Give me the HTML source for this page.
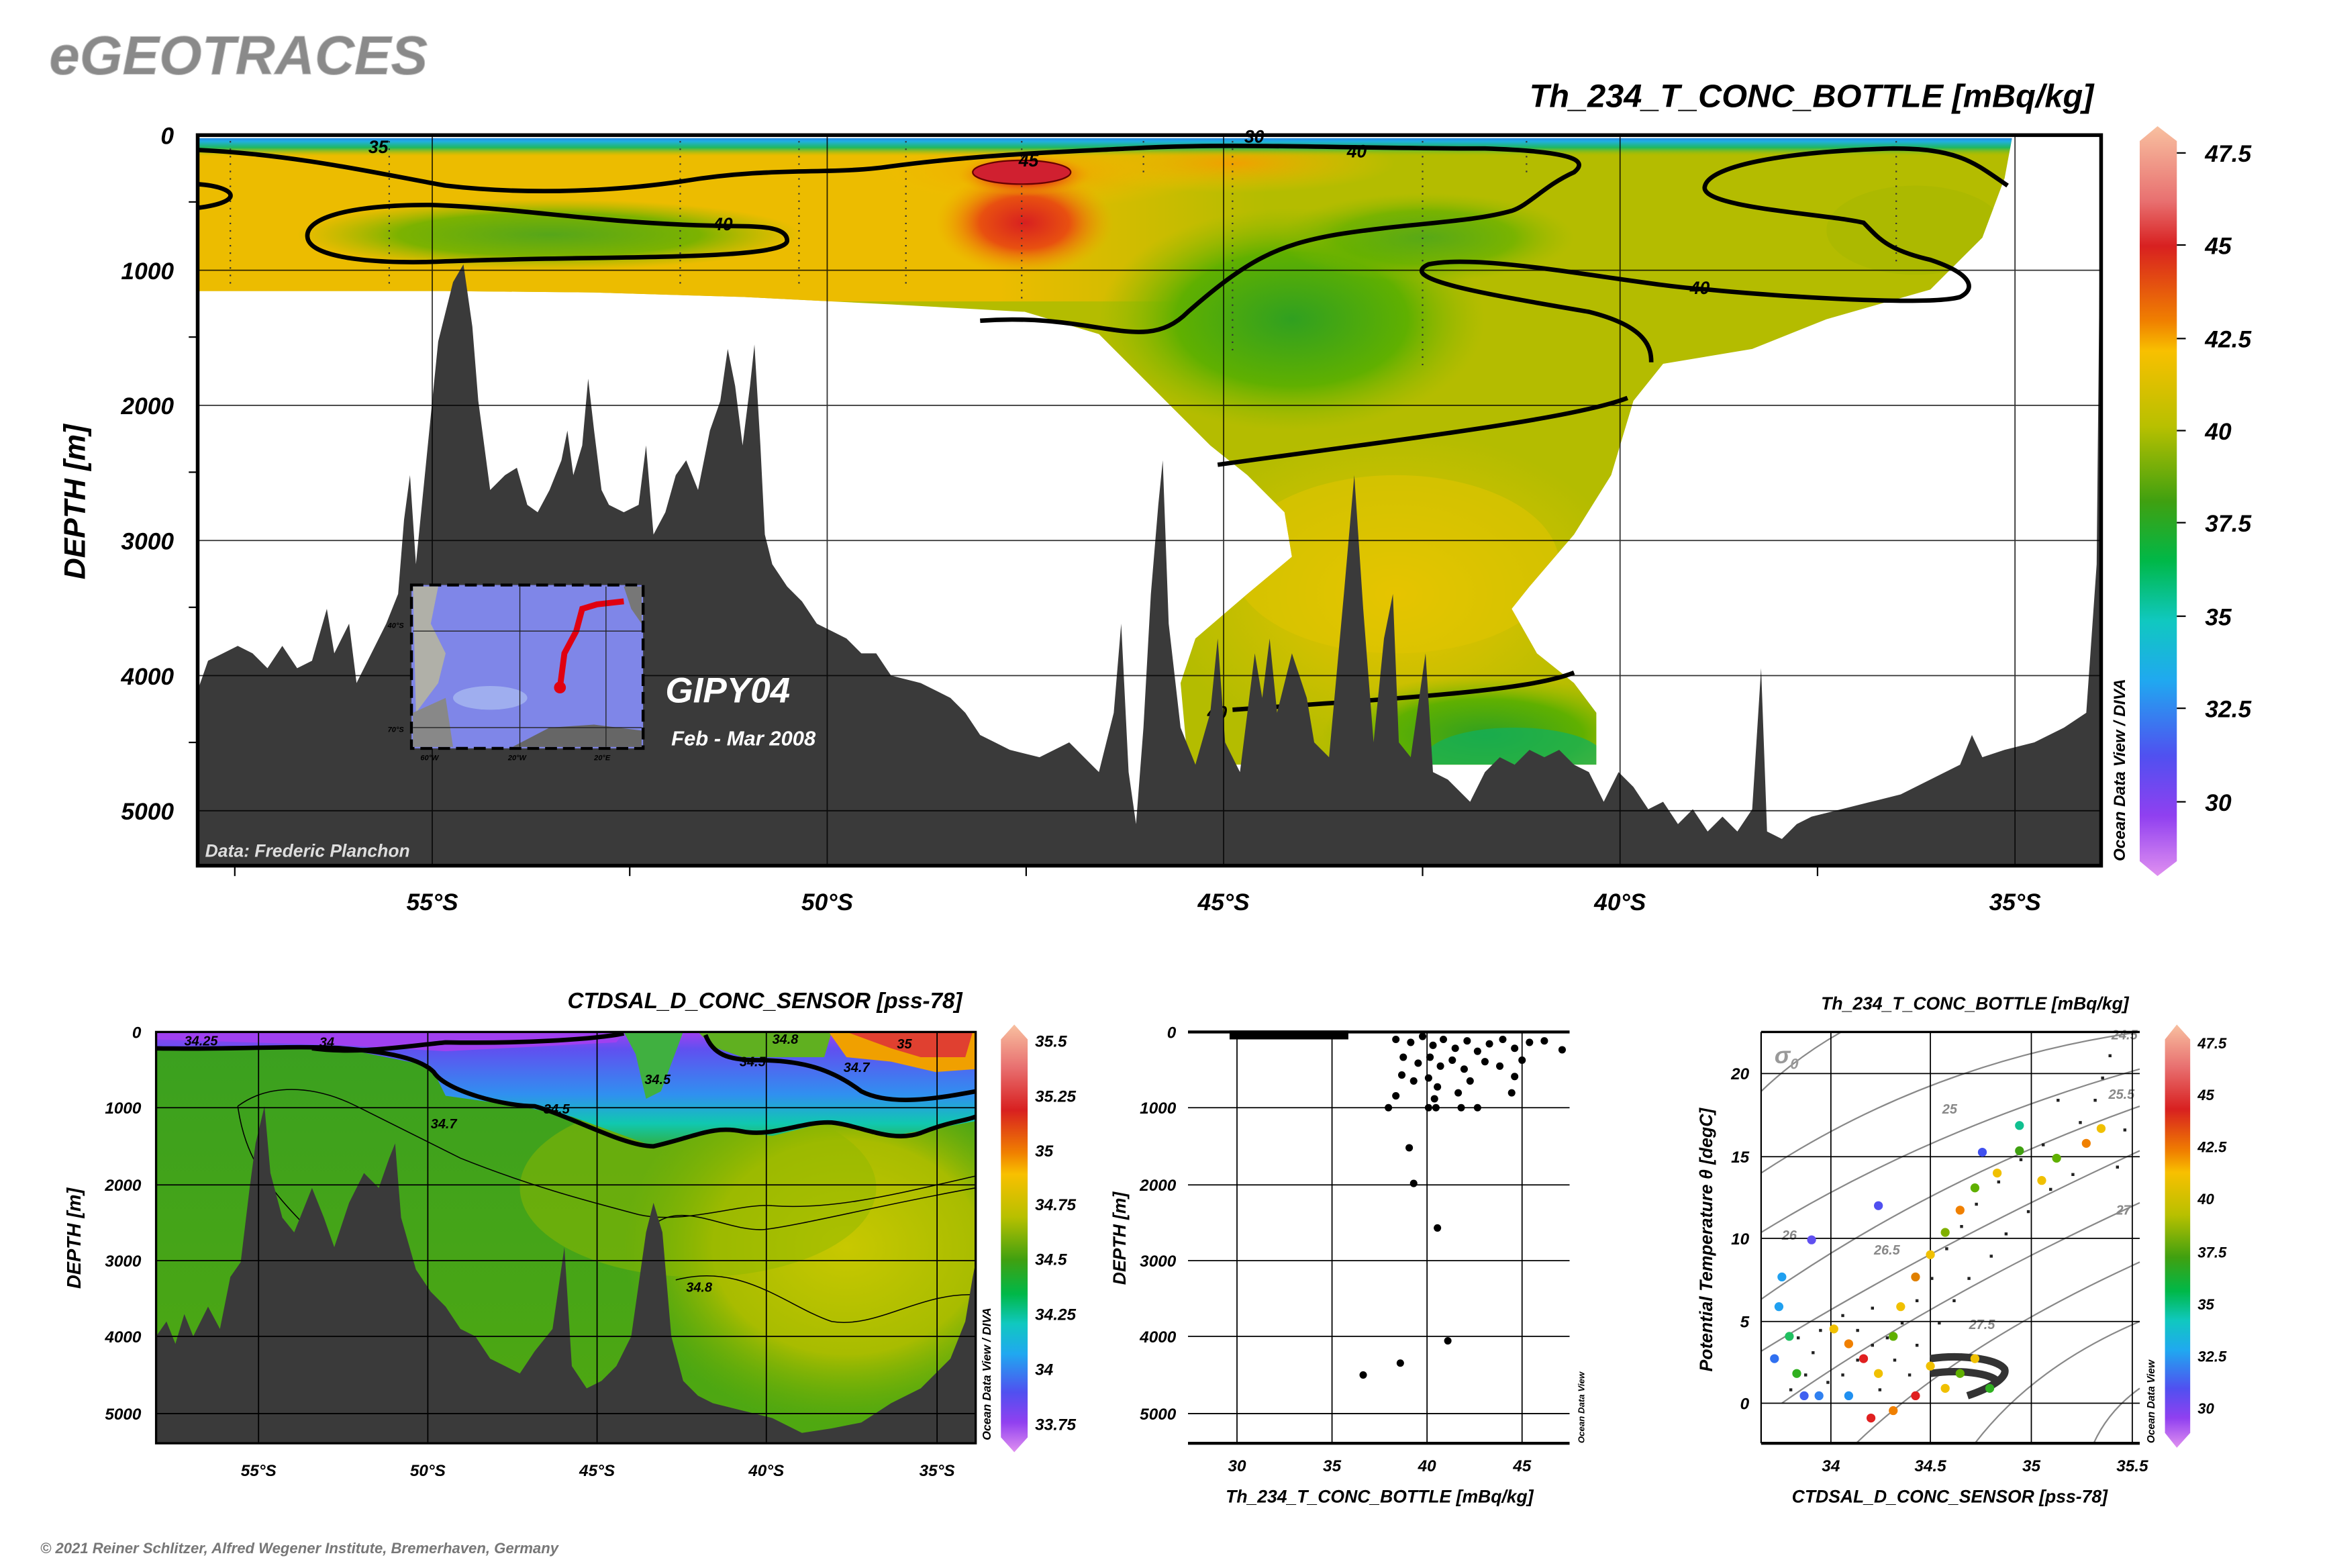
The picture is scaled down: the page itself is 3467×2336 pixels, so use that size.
<!DOCTYPE html>
<html><head><meta charset="utf-8"><style>
html,body{margin:0;padding:0;background:#fff}
svg{display:block}
text{font-family:"Liberation Sans",sans-serif;font-style:italic;font-weight:bold}
</style></head><body>
<svg width="3467" height="2336" viewBox="0 0 1567 1056" xmlns="http://www.w3.org/2000/svg">
<defs>
<linearGradient id="cb" x1="0" y1="0" x2="0" y2="1">
<stop offset="0" stop-color="#f8c0a0"/><stop offset="0.1" stop-color="#e87070"/><stop offset="0.16" stop-color="#d82020"/>
<stop offset="0.26" stop-color="#f08000"/><stop offset="0.3" stop-color="#f8c000"/><stop offset="0.4" stop-color="#b8c000"/>
<stop offset="0.5" stop-color="#40a010"/><stop offset="0.58" stop-color="#00b848"/><stop offset="0.66" stop-color="#10c8c0"/>
<stop offset="0.74" stop-color="#20a8f0"/><stop offset="0.84" stop-color="#5050f0"/><stop offset="0.92" stop-color="#9040f0"/><stop offset="1" stop-color="#e090f0"/>
</linearGradient>
<linearGradient id="top" x1="0" y1="0" x2="0" y2="1">
<stop offset="0" stop-color="#3060f0"/><stop offset="0.3" stop-color="#20b0e0"/><stop offset="0.6" stop-color="#20b860"/><stop offset="1" stop-color="#a0c000" stop-opacity="0"/>
</linearGradient>
<linearGradient id="leftY" x1="0" y1="0" x2="1" y2="0">
<stop offset="0" stop-color="#ecbc00"/><stop offset="0.75" stop-color="#ecbc00"/><stop offset="1" stop-color="#ecbc00" stop-opacity="0"/>
</linearGradient>
<radialGradient id="red"><stop offset="0" stop-color="#d82020"/><stop offset="0.5" stop-color="#e85010"/><stop offset="1" stop-color="#f0a000" stop-opacity="0"/></radialGradient>
<radialGradient id="org"><stop offset="0" stop-color="#f0a000"/><stop offset="1" stop-color="#f0c000" stop-opacity="0"/></radialGradient>
<radialGradient id="grn"><stop offset="0" stop-color="#30a020"/><stop offset="0.6" stop-color="#60b000"/><stop offset="1" stop-color="#90b800" stop-opacity="0"/></radialGradient>
<radialGradient id="yel"><stop offset="0" stop-color="#f0c400"/><stop offset="1" stop-color="#e0c400" stop-opacity="0"/></radialGradient>
<linearGradient id="sal" x1="0" y1="0" x2="0" y2="1">
<stop offset="0" stop-color="#3aa020"/><stop offset="1" stop-color="#50a810"/>
</linearGradient>
<radialGradient id="salY"><stop offset="0" stop-color="#c8c800"/><stop offset="0.6" stop-color="#a8bc00"/><stop offset="1" stop-color="#70b000" stop-opacity="0"/></radialGradient>
<linearGradient id="salTop" x1="0" y1="0" x2="0" y2="1">
<stop offset="0" stop-color="#a040f0"/><stop offset="0.15" stop-color="#6050f0"/><stop offset="0.55" stop-color="#3090f0"/><stop offset="0.8" stop-color="#10c8b0"/><stop offset="1" stop-color="#30b040"/>
</linearGradient>
<linearGradient id="cb2" x1="0" y1="0" x2="0" y2="1">
<stop offset="0" stop-color="#f8c0a0"/><stop offset="0.1" stop-color="#e87070"/><stop offset="0.2" stop-color="#d82020"/>
<stop offset="0.3" stop-color="#f08000"/><stop offset="0.35" stop-color="#f8c000"/><stop offset="0.45" stop-color="#b8c000"/>
<stop offset="0.55" stop-color="#40a010"/><stop offset="0.63" stop-color="#00b848"/><stop offset="0.7" stop-color="#10c8c0"/>
<stop offset="0.77" stop-color="#20a8f0"/><stop offset="0.86" stop-color="#5050f0"/><stop offset="0.93" stop-color="#9040f0"/><stop offset="1" stop-color="#e090f0"/>
</linearGradient>
<clipPath id="mainclip"><path d="M133,93 L1355,93 L1350,120 L1335,160 L1300,195 L1230,215 L1180,235 L1120,245 L1100,270 L1085,320 L1060,360 L1030,395 L1018,410 L1035,440 L1060,460 L1075,480 L1075,515 L800,515 L795,460 L805,430 L840,400 L870,375 L865,345 L840,320 L815,300 L790,275 L765,250 L740,225 L690,210 L600,205 L500,200 L400,197 L300,196 L133,196 Z"/></clipPath>
<clipPath id="salclip"><rect x="105" y="695" width="552" height="277"/></clipPath>
</defs>

<text x="33" y="50" font-size="37" fill="#8a8a8a" stroke="#bbb" stroke-width="0.5">eGEOTRACES</text>
<text x="1410" y="72" font-size="22" text-anchor="end" fill="#000">Th_234_T_CONC_BOTTLE [mBq/kg]</text>

<g clip-path="url(#mainclip)">
<rect x="133" y="91" width="1282" height="430" fill="#b4bc00"/>
<rect x="133" y="98" width="720" height="105" fill="url(#leftY)"/>
<ellipse cx="700" cy="115" rx="120" ry="25" fill="url(#org)"/>
<ellipse cx="830" cy="110" rx="110" ry="20" fill="url(#org)"/>
<ellipse cx="690" cy="150" rx="60" ry="35" fill="url(#red)"/>
<ellipse cx="690" cy="118" rx="45" ry="14" fill="url(#red)"/>
<ellipse cx="370" cy="158" rx="170" ry="24" fill="url(#grn)" opacity="0.8"/>
<ellipse cx="870" cy="215" rx="130" ry="75" fill="url(#grn)"/>
<ellipse cx="960" cy="160" rx="100" ry="30" fill="url(#grn)" opacity="0.7"/>
<ellipse cx="1290" cy="155" rx="60" ry="30" fill="#a8b800" opacity="0.7"/>
<ellipse cx="940" cy="400" rx="160" ry="110" fill="url(#yel)"/>
<ellipse cx="940" cy="380" rx="110" ry="60" fill="#e0c400" opacity="0.6"/>
<ellipse cx="1000" cy="495" rx="110" ry="40" fill="url(#grn)"/>
<ellipse cx="1020" cy="510" rx="60" ry="20" fill="#10b060" opacity="0.7"/>
<rect x="133" y="91" width="1222" height="14" fill="url(#top)"/>
</g>
<g stroke="#333" stroke-width="1" stroke-dasharray="1,4">
<line x1="155" y1="95" x2="155" y2="195"/><line x1="262" y1="95" x2="262" y2="195"/><line x1="458" y1="95" x2="458" y2="195"/>
<line x1="538" y1="95" x2="538" y2="195"/><line x1="610" y1="95" x2="610" y2="195"/><line x1="688" y1="95" x2="688" y2="205"/>
<line x1="770" y1="95" x2="770" y2="120"/><line x1="830" y1="95" x2="830" y2="240"/><line x1="958" y1="95" x2="958" y2="250"/>
<line x1="1028" y1="95" x2="1028" y2="120"/><line x1="1277" y1="95" x2="1277" y2="180"/>
</g>
<g fill="none" stroke="#000" stroke-width="3">
<path d="M133,101 C200,104 260,118 300,125 C360,132 420,128 460,122 C520,112 560,118 600,112 C660,104 720,102 760,100 C830,96 900,100 1000,100 C1060,102 1070,108 1060,116 C1040,125 1030,138 1018,142 C990,150 950,150 900,158 C860,165 840,175 800,210 C770,240 740,210 660,216"/>
<path d="M1352,125 C1330,110 1320,100 1275,100 C1200,102 1150,112 1148,126 C1146,140 1230,144 1255,150 C1265,160 1270,168 1300,175 C1330,185 1330,195 1320,200 C1300,206 1200,200 1150,195 C1100,192 1000,170 962,178 C940,188 1000,198 1070,210 C1110,220 1112,235 1112,244"/>
<path d="M820,313 C950,295 1060,282 1096,268"/>
<path d="M830,478 C950,470 1030,465 1060,453"/>
<path d="M480,152 C400,150 350,140 290,138 C230,138 205,148 207,160 C209,175 260,178 300,176 C400,172 530,176 530,162 C530,150 500,153 480,152 Z"/>
<path d="M133,124 C160,126 165,136 133,140"/>
</g>
<ellipse cx="688" cy="116" rx="33" ry="8" fill="#d02030" stroke="#600" stroke-width="1"/>
<g font-size="12" fill="#000"><text x="248" y="103">35</text><text x="838" y="96">30</text><text x="907" y="106">40</text><text x="480" y="155">40</text><text x="1138" y="198">40</text><text x="686" y="112">45</text><text x="813" y="484">40</text></g>

<path fill="#3a3a3a" d="M133,583 L133,465 L140,445 L150,440 L160,435 L170,440 L180,450 L190,435 L200,450 L210,445 L220,410 L225,440 L235,420 L240,460 L250,440 L260,420 L268,400 L272,350 L276,320 L280,380 L288,300 L295,230 L305,190 L312,178 L318,220 L322,270 L330,330 L340,320 L348,315 L355,340 L362,345 L370,330 L378,310 L382,290 L386,320 L392,300 L396,255 L400,290 L405,330 L410,340 L420,345 L430,340 L435,300 L440,360 L448,345 L455,320 L462,310 L470,330 L478,290 L485,270 L490,235 L495,260 L500,300 L505,260 L508,232 L512,300 L515,360 L520,380 L530,395 L540,405 L550,420 L560,425 L570,430 L580,440 L590,440 L600,455 L620,460 L640,470 L650,480 L660,495 L670,500 L680,505 L700,510 L720,500 L740,520 L750,480 L755,420 L760,520 L765,555 L770,490 L775,400 L780,340 L783,310 L787,420 L795,490 L805,515 L815,480 L820,430 L825,500 L835,520 L845,440 L850,470 L855,430 L860,480 L870,440 L880,470 L885,500 L895,510 L905,400 L912,320 L918,410 L925,500 L932,430 L938,400 L942,500 L950,510 L960,440 L965,520 L975,525 L990,540 L1000,520 L1010,510 L1020,515 L1030,505 L1040,510 L1050,505 L1060,515 L1070,520 L1080,540 L1090,520 L1100,530 L1110,545 L1120,540 L1130,555 L1140,545 L1150,560 L1160,550 L1170,560 L1180,545 L1186,450 L1190,560 L1200,565 L1210,555 L1220,550 L1240,545 L1260,540 L1280,535 L1300,525 L1320,515 L1328,495 L1335,510 L1350,505 L1370,500 L1390,490 L1405,480 L1412,380 L1414,180 L1415,95 L1415,583 Z"/>
<g stroke="#000" stroke-width="0.8" opacity="0.8">
<line x1="133" y1="182" x2="1415" y2="182"/><line x1="133" y1="273" x2="1415" y2="273"/><line x1="133" y1="364" x2="1415" y2="364"/><line x1="133" y1="455" x2="1415" y2="455"/><line x1="133" y1="546" x2="1415" y2="546"/>
<line x1="291" y1="91" x2="291" y2="583"/><line x1="557" y1="91" x2="557" y2="583"/><line x1="824" y1="91" x2="824" y2="583"/><line x1="1091" y1="91" x2="1091" y2="583"/><line x1="1357" y1="91" x2="1357" y2="583"/>
</g>
<rect x="133" y="91" width="1282" height="492" fill="none" stroke="#000" stroke-width="2.5"/>
<g stroke="#000" stroke-width="1">
<line x1="158" y1="583" x2="158" y2="590"/><line x1="424" y1="583" x2="424" y2="590"/><line x1="691" y1="583" x2="691" y2="590"/><line x1="958" y1="583" x2="958" y2="590"/><line x1="1224" y1="583" x2="1224" y2="590"/>
<line x1="127" y1="136" x2="133" y2="136"/><line x1="127" y1="227" x2="133" y2="227"/><line x1="127" y1="318" x2="133" y2="318"/><line x1="127" y1="409" x2="133" y2="409"/><line x1="127" y1="500" x2="133" y2="500"/>
</g>
<g font-size="16" fill="#000" text-anchor="end"><text x="117" y="97">0</text><text x="117" y="188">1000</text><text x="117" y="279">2000</text><text x="117" y="370">3000</text><text x="117" y="461">4000</text><text x="117" y="552">5000</text></g>
<g font-size="16" fill="#000" text-anchor="middle"><text x="291" y="613">55°S</text><text x="557" y="613">50°S</text><text x="824" y="613">45°S</text><text x="1091" y="613">40°S</text><text x="1357" y="613">35°S</text></g>
<text transform="translate(57,338) rotate(-90)" font-size="20" text-anchor="middle" fill="#000">DEPTH [m]</text>
<text x="138" y="577" font-size="12" fill="#ddd">Data: Frederic Planchon</text>
<text transform="translate(1431,580) rotate(-90)" font-size="11" fill="#000">Ocean Data View / DIVA</text>
<rect x="277" y="394" width="156" height="110" fill="#7f86e8" stroke="#000" stroke-width="2" stroke-dasharray="8,4"/>
<path d="M278,395 L295,395 L290,420 L300,440 L295,460 L280,480 Z" fill="#b0b0a8"/>
<path d="M278,480 L300,470 L305,503 L278,503 Z" fill="#888"/>
<path d="M345,503 L370,490 L400,488 L432,492 L432,503 Z" fill="#666"/>
<path d="M420,395 L432,395 L432,420 L425,410 Z" fill="#777"/>
<ellipse cx="330" cy="470" rx="25" ry="8" fill="#a8b8f0" opacity="0.8"/>
<path d="M377,463 L380,440 L388,425 L392,410 L402,407 L420,405" fill="none" stroke="#e00010" stroke-width="4"/>
<circle cx="377" cy="463" r="4" fill="#e00010"/>
<g stroke="#222" stroke-width="0.6"><line x1="350" y1="395" x2="350" y2="503"/><line x1="408" y1="395" x2="408" y2="503"/><line x1="278" y1="425" x2="432" y2="425"/><line x1="278" y1="490" x2="432" y2="490"/></g>
<g font-size="5" fill="#000"><text x="283" y="512">60°W</text><text x="342" y="512">20°W</text><text x="400" y="512">20°E</text><text x="261" y="423">40°S</text><text x="261" y="493">70°S</text></g>
<text x="448" y="473" font-size="24" fill="#fff">GIPY04</text>
<text x="452" y="502" font-size="14" fill="#fff">Feb - Mar 2008</text>
<path d="M1441,95 L1453,85 L1466,95 L1466,580 L1453,590 L1441,580 Z" fill="url(#cb)"/>
<g stroke="#000" stroke-width="1"><line x1="1466" y1="103" x2="1472" y2="103"/><line x1="1466" y1="165" x2="1472" y2="165"/><line x1="1466" y1="228" x2="1472" y2="228"/><line x1="1466" y1="290" x2="1472" y2="290"/><line x1="1466" y1="352" x2="1472" y2="352"/><line x1="1466" y1="415" x2="1472" y2="415"/><line x1="1466" y1="477" x2="1472" y2="477"/><line x1="1466" y1="540" x2="1472" y2="540"/></g>
<g font-size="16" fill="#000"><text x="1485" y="109">47.5</text><text x="1485" y="171">45</text><text x="1485" y="234">42.5</text><text x="1485" y="296">40</text><text x="1485" y="358">37.5</text><text x="1485" y="421">35</text><text x="1485" y="483">32.5</text><text x="1485" y="546">30</text></g>

<text x="515" y="679" font-size="15" text-anchor="middle" fill="#000">CTDSAL_D_CONC_SENSOR [pss-78]</text>
<g clip-path="url(#salclip)">
<rect x="105" y="695" width="552" height="277" fill="url(#sal)"/>
<ellipse cx="570" cy="840" rx="150" ry="120" fill="url(#salY)"/>
<ellipse cx="470" cy="800" rx="120" ry="60" fill="#90b800" opacity="0.5"/>
<path d="M105,695 L657,695 L657,755 L630,760 L600,765 L560,755 L520,765 L480,760 L440,772 L385,752 L350,745 L300,738 L290,718 L230,706 L105,706 Z" fill="url(#salTop)"/>
<path d="M105,695 L420,695 L415,702 L300,708 L230,704 L105,700 Z" fill="#a040f0"/>
<path d="M420,695 L460,695 L445,735 L435,740 L428,710 Z" fill="#40b040"/>
<path d="M470,695 L560,695 L555,712 L500,712 L480,705 Z" fill="#60b020"/>
<path d="M558,695 L657,695 L657,720 L630,722 L600,715 L570,712 Z" fill="#f0a000"/>
<path d="M570,695 L655,695 L650,712 L620,712 L600,706 Z" fill="#e04030"/>
<g fill="none" stroke="#000" stroke-width="3">
<path d="M105,706 C150,707 200,704 230,706 C270,709 285,715 292,722 C300,735 340,745 360,745 C385,752 420,772 440,772 C470,765 480,758 500,762 C520,766 540,755 560,756 C580,758 600,770 620,763 C640,755 650,755 657,752"/>
<path d="M210,706 C240,710 270,705 300,702 C350,703 400,700 420,696"/>
<path d="M475,697 C480,710 490,714 510,714 C540,714 560,720 580,735 C600,745 630,740 657,735"/>
</g>
<g fill="none" stroke="#000" stroke-width="0.7">
<path d="M160,745 C180,730 210,730 240,745 C270,760 290,770 310,780 C360,800 400,810 430,818 C460,825 500,810 520,812 C560,815 600,805 657,792"/>
<path d="M160,745 C165,780 180,800 210,830 C250,870 290,890 330,920"/>
<path d="M440,825 C438,840 440,880 445,900"/>
<path d="M440,825 C460,808 490,830 515,828 C540,825 600,810 657,800"/>
<path d="M455,862 C500,850 530,880 560,890 C590,895 620,870 657,872"/>
</g>
<path fill="#3a3a3a" d="M105,972 L105,900 L112,890 L118,905 L124,885 L130,900 L140,880 L148,895 L155,860 L162,850 L168,800 L172,770 L178,745 L182,790 L190,820 L198,830 L210,800 L218,820 L225,840 L235,810 L245,790 L255,800 L262,780 L266,770 L270,820 L280,855 L290,870 L300,880 L310,895 L320,900 L330,915 L340,920 L350,925 L360,910 L372,895 L380,840 L385,920 L395,935 L405,930 L415,920 L425,900 L435,830 L440,810 L446,830 L452,900 L460,930 L470,940 L480,945 L500,950 L520,955 L540,965 L560,962 L580,958 L600,945 L620,935 L640,915 L650,890 L655,860 L657,850 L657,972 Z"/>
</g>
<g font-size="9" fill="#000"><text x="124" y="704">34.25</text><text x="215" y="705">34</text><text x="366" y="750">34.5</text><text x="290" y="760">34.7</text><text x="462" y="870">34.8</text><text x="498" y="718">34.5</text><text x="520" y="703">34.8</text><text x="604" y="706">35</text><text x="568" y="722">34.7</text><text x="434" y="730">34.5</text></g>
<g stroke="#000" stroke-width="0.8"><line x1="105" y1="746" x2="657" y2="746"/><line x1="105" y1="798" x2="657" y2="798"/><line x1="105" y1="849" x2="657" y2="849"/><line x1="105" y1="900" x2="657" y2="900"/><line x1="105" y1="952" x2="657" y2="952"/>
<line x1="174" y1="695" x2="174" y2="972"/><line x1="288" y1="695" x2="288" y2="972"/><line x1="402" y1="695" x2="402" y2="972"/><line x1="516" y1="695" x2="516" y2="972"/><line x1="631" y1="695" x2="631" y2="972"/></g>
<rect x="105" y="695" width="552" height="277" fill="none" stroke="#000" stroke-width="1.5"/>
<g font-size="11" fill="#000" text-anchor="end"><text x="95" y="699">0</text><text x="95" y="750">1000</text><text x="95" y="802">2000</text><text x="95" y="853">3000</text><text x="95" y="904">4000</text><text x="95" y="956">5000</text></g>
<g font-size="11" fill="#000" text-anchor="middle"><text x="174" y="994">55°S</text><text x="288" y="994">50°S</text><text x="402" y="994">45°S</text><text x="516" y="994">40°S</text><text x="631" y="994">35°S</text></g>
<text transform="translate(54,834) rotate(-90)" font-size="13" text-anchor="middle" fill="#000">DEPTH [m]</text>
<text transform="translate(667,970) rotate(-90)" font-size="8" fill="#000">Ocean Data View / DIVA</text>
<path d="M674,700 L683,690 L692,700 L692,968 L683,978 L674,968 Z" fill="url(#cb2)"/>
<g font-size="11" fill="#000"><text x="697" y="705">35.5</text><text x="697" y="742">35.25</text><text x="697" y="779">35</text><text x="697" y="815">34.75</text><text x="697" y="852">34.5</text><text x="697" y="889">34.25</text><text x="697" y="926">34</text><text x="697" y="963">33.75</text></g>

<g stroke="#000" stroke-width="0.8"><line x1="800" y1="746" x2="1057" y2="746"/><line x1="800" y1="798" x2="1057" y2="798"/><line x1="800" y1="849" x2="1057" y2="849"/><line x1="800" y1="900" x2="1057" y2="900"/><line x1="800" y1="952" x2="1057" y2="952"/>
<line x1="833" y1="695" x2="833" y2="972"/><line x1="897" y1="695" x2="897" y2="972"/><line x1="961" y1="695" x2="961" y2="972"/><line x1="1025" y1="695" x2="1025" y2="972"/></g>
<line x1="800" y1="695" x2="1057" y2="695" stroke="#000" stroke-width="2"/>
<line x1="800" y1="972" x2="1057" y2="972" stroke="#000" stroke-width="2"/>
<g fill="#000">
<rect x="828" y="694" width="80" height="6"/>
<circle cx="940" cy="700" r="2.5"/><circle cx="950" cy="702" r="2.5"/><circle cx="958" cy="698" r="2.5"/><circle cx="965" cy="704" r="2.5"/><circle cx="972" cy="700" r="2.5"/><circle cx="980" cy="706" r="2.5"/><circle cx="988" cy="701" r="2.5"/><circle cx="995" cy="708" r="2.5"/><circle cx="1003" cy="703" r="2.5"/><circle cx="1012" cy="700" r="2.5"/><circle cx="1020" cy="706" r="2.5"/><circle cx="1030" cy="702" r="2.5"/><circle cx="1040" cy="701" r="2.5"/><circle cx="1052" cy="707" r="2.5"/>
<circle cx="945" cy="712" r="2.5"/><circle cx="955" cy="716" r="2.5"/><circle cx="963" cy="712" r="2.5"/><circle cx="970" cy="718" r="2.5"/><circle cx="978" cy="714" r="2.5"/><circle cx="986" cy="720" r="2.5"/><circle cx="1000" cy="715" r="2.5"/><circle cx="1010" cy="718" r="2.5"/><circle cx="1025" cy="714" r="2.5"/>
<circle cx="944" cy="724" r="2.5"/><circle cx="952" cy="728" r="2.5"/><circle cx="962" cy="726" r="2.5"/><circle cx="968" cy="732" r="2.5"/><circle cx="990" cy="728" r="2.5"/><circle cx="1020" cy="725" r="2.5"/><circle cx="940" cy="738" r="2.5"/><circle cx="966" cy="740" r="2.5"/><circle cx="982" cy="736" r="2.5"/><circle cx="1018" cy="736" r="2.5"/>
<circle cx="935" cy="746" r="2.5"/><circle cx="962" cy="746" r="2.5"/><circle cx="967" cy="746" r="2.5"/><circle cx="984" cy="746" r="2.5"/><circle cx="995" cy="746" r="2.5"/>
<circle cx="949" cy="773" r="2.5"/><circle cx="952" cy="797" r="2.5"/><circle cx="968" cy="827" r="2.5"/><circle cx="975" cy="903" r="2.5"/><circle cx="943" cy="918" r="2.5"/><circle cx="918" cy="926" r="2.5"/>
</g>
<g font-size="11" fill="#000" text-anchor="end"><text x="792" y="699">0</text><text x="792" y="750">1000</text><text x="792" y="802">2000</text><text x="792" y="853">3000</text><text x="792" y="904">4000</text><text x="792" y="956">5000</text></g>
<g font-size="11" fill="#000" text-anchor="middle"><text x="833" y="991">30</text><text x="897" y="991">35</text><text x="961" y="991">40</text><text x="1025" y="991">45</text></g>
<text x="929" y="1012" font-size="12" text-anchor="middle" fill="#000">Th_234_T_CONC_BOTTLE [mBq/kg]</text>
<text transform="translate(758,834) rotate(-90)" font-size="12" text-anchor="middle" fill="#000">DEPTH [m]</text>
<text transform="translate(1067,972) rotate(-90)" font-size="6" fill="#000">Ocean Data View</text>

<text x="1330" y="680" font-size="12" text-anchor="middle" fill="#000">Th_234_T_CONC_BOTTLE [mBq/kg]</text>
<g fill="none" stroke="#888" stroke-width="1">
<path d="M1186,735 Q1210,712 1240,695"/><path d="M1186,790 Q1300,715 1441,695"/><path d="M1186,830 Q1300,760 1441,720"/>
<path d="M1186,875 Q1300,795 1441,745"/><path d="M1186,910 Q1300,840 1441,775"/><path d="M1200,945 Q1300,875 1441,810"/>
<path d="M1250,972 Q1320,905 1441,850"/><path d="M1330,972 Q1370,920 1441,890"/><path d="M1410,972 Q1420,950 1441,935"/>
</g>
<g font-size="9" fill="#888"><text x="1308" y="750">25</text><text x="1200" y="835">26</text><text x="1262" y="845">26.5</text><text x="1326" y="895">27.5</text><text x="1425" y="818">27</text><text x="1420" y="740">25.5</text><text x="1422" y="700">24.5</text></g>
<text x="1195" y="716" font-size="16" fill="#999">σ<tspan font-size="10" dy="4">0</tspan></text>
<g stroke="#000" stroke-width="0.8"><line x1="1186" y1="723" x2="1441" y2="723"/><line x1="1186" y1="779" x2="1441" y2="779"/><line x1="1186" y1="834" x2="1441" y2="834"/><line x1="1186" y1="890" x2="1441" y2="890"/><line x1="1186" y1="945" x2="1441" y2="945"/>
<line x1="1233" y1="695" x2="1233" y2="972"/><line x1="1300" y1="695" x2="1300" y2="972"/><line x1="1368" y1="695" x2="1368" y2="972"/><line x1="1436" y1="695" x2="1436" y2="972"/></g>
<line x1="1186" y1="695" x2="1441" y2="695" stroke="#000" stroke-width="1.5"/>
<line x1="1186" y1="972" x2="1441" y2="972" stroke="#000" stroke-width="2"/>
<line x1="1186" y1="695" x2="1186" y2="972" stroke="#000" stroke-width="1"/>
<path d="M1300,915 C1320,912 1345,915 1350,922 C1352,928 1340,935 1325,940 M1300,925 C1320,922 1340,925 1345,930" fill="none" stroke="#333" stroke-width="5"/>
<g fill="#222">
<rect x="1420" y="710" width="2" height="2"/><rect x="1415" y="725" width="2" height="2"/><rect x="1410" y="740" width="2" height="2"/><rect x="1400" y="755" width="2" height="2"/><rect x="1385" y="740" width="2" height="2"/><rect x="1375" y="770" width="2" height="2"/><rect x="1360" y="780" width="2" height="2"/><rect x="1345" y="795" width="2" height="2"/><rect x="1330" y="810" width="2" height="2"/><rect x="1320" y="825" width="2" height="2"/><rect x="1310" y="840" width="2" height="2"/><rect x="1300" y="860" width="2" height="2"/><rect x="1290" y="875" width="2" height="2"/><rect x="1280" y="890" width="2" height="2"/><rect x="1270" y="900" width="2" height="2"/><rect x="1260" y="905" width="2" height="2"/><rect x="1250" y="915" width="2" height="2"/><rect x="1240" y="925" width="2" height="2"/><rect x="1230" y="930" width="2" height="2"/><rect x="1220" y="910" width="2" height="2"/><rect x="1210" y="900" width="2" height="2"/><rect x="1395" y="790" width="2" height="2"/><rect x="1380" y="800" width="2" height="2"/><rect x="1365" y="815" width="2" height="2"/><rect x="1350" y="830" width="2" height="2"/><rect x="1340" y="845" width="2" height="2"/><rect x="1325" y="860" width="2" height="2"/><rect x="1315" y="875" width="2" height="2"/><rect x="1305" y="890" width="2" height="2"/><rect x="1430" y="760" width="2" height="2"/><rect x="1425" y="785" width="2" height="2"/><rect x="1405" y="770" width="2" height="2"/><rect x="1260" y="880" width="2" height="2"/><rect x="1250" y="895" width="2" height="2"/><rect x="1240" y="885" width="2" height="2"/><rect x="1275" y="915" width="2" height="2"/><rect x="1285" y="925" width="2" height="2"/><rect x="1265" y="935" width="2" height="2"/><rect x="1225" y="895" width="2" height="2"/><rect x="1215" y="925" width="2" height="2"/><rect x="1205" y="935" width="2" height="2"/><rect x="1290" y="905" width="2" height="2"/>
</g>
<g>
<circle cx="1200" cy="860" r="3" fill="#20a0f0"/><circle cx="1198" cy="880" r="3" fill="#20a0f0"/><circle cx="1195" cy="915" r="3" fill="#3070f0"/><circle cx="1205" cy="900" r="3" fill="#20c060"/><circle cx="1210" cy="925" r="3" fill="#30b020"/><circle cx="1215" cy="940" r="3" fill="#4060f0"/><circle cx="1225" cy="940" r="3" fill="#3080f0"/><circle cx="1245" cy="940" r="3" fill="#2090f0"/><circle cx="1220" cy="835" r="3" fill="#6050f0"/>
<circle cx="1235" cy="895" r="3" fill="#f0c000"/><circle cx="1245" cy="905" r="3" fill="#f08000"/><circle cx="1255" cy="915" r="3" fill="#e02020"/><circle cx="1265" cy="925" r="3" fill="#f0c000"/><circle cx="1275" cy="900" r="3" fill="#60b000"/><circle cx="1280" cy="880" r="3" fill="#f0c000"/><circle cx="1290" cy="860" r="3" fill="#e08000"/><circle cx="1300" cy="845" r="3" fill="#f0c000"/><circle cx="1310" cy="830" r="3" fill="#80b000"/><circle cx="1320" cy="815" r="3" fill="#f08000"/><circle cx="1330" cy="800" r="3" fill="#60b000"/><circle cx="1345" cy="790" r="3" fill="#f0c000"/><circle cx="1360" cy="775" r="3" fill="#40a010"/><circle cx="1375" cy="795" r="3" fill="#f0c000"/><circle cx="1385" cy="780" r="3" fill="#60b000"/><circle cx="1405" cy="770" r="3" fill="#f08000"/><circle cx="1415" cy="760" r="3" fill="#f0c000"/><circle cx="1335" cy="776" r="3" fill="#4050f0"/><circle cx="1360" cy="758" r="3" fill="#10c090"/><circle cx="1265" cy="812" r="3" fill="#5050f0"/>
<circle cx="1310" cy="935" r="3" fill="#f0c000"/><circle cx="1320" cy="925" r="3" fill="#60b000"/><circle cx="1330" cy="915" r="3" fill="#f0c000"/><circle cx="1290" cy="940" r="3" fill="#e02020"/><circle cx="1275" cy="950" r="3" fill="#f08000"/><circle cx="1300" cy="920" r="3" fill="#f0c000"/><circle cx="1340" cy="935" r="3" fill="#30b020"/><circle cx="1260" cy="955" r="3" fill="#e02020"/>
</g>
<g font-size="11" fill="#000" text-anchor="end"><text x="1178" y="727">20</text><text x="1178" y="783">15</text><text x="1178" y="838">10</text><text x="1178" y="894">5</text><text x="1178" y="949">0</text></g>
<g font-size="11" fill="#000" text-anchor="middle"><text x="1233" y="991">34</text><text x="1300" y="991">34.5</text><text x="1368" y="991">35</text><text x="1436" y="991">35.5</text></g>
<text x="1313" y="1012" font-size="12" text-anchor="middle" fill="#000">CTDSAL_D_CONC_SENSOR [pss-78]</text>
<text transform="translate(1153,835) rotate(-90)" font-size="12" text-anchor="middle" fill="#000">Potential Temperature θ [degC]</text>
<text transform="translate(1451,972) rotate(-90)" font-size="7" fill="#000">Ocean Data View</text>
<path d="M1458,700 L1466,690 L1475,700 L1475,965 L1466,975 L1458,965 Z" fill="url(#cb2)"/>
<g font-size="10" fill="#000"><text x="1480" y="706">47.5</text><text x="1480" y="741">45</text><text x="1480" y="776">42.5</text><text x="1480" y="811">40</text><text x="1480" y="847">37.5</text><text x="1480" y="882">35</text><text x="1480" y="917">32.5</text><text x="1480" y="952">30</text></g>

<text x="27" y="1046" font-size="10" fill="#777">© 2021 Reiner Schlitzer, Alfred Wegener Institute, Bremerhaven, Germany</text>
</svg>
</body></html>
